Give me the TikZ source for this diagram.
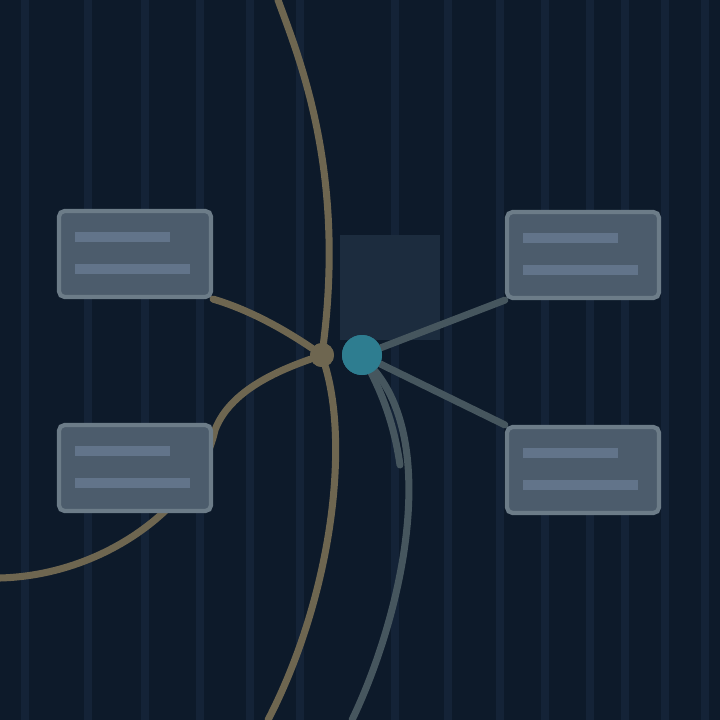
\documentclass[tikz,border=0pt]{standalone}
\usepackage{tikz}
\definecolor{bgnavy}{HTML}{0D1A2A}
\definecolor{stripe}{HTML}{142337}
\definecolor{panel}{HTML}{1C2C3E}
\definecolor{boxfill}{HTML}{4C5C6C}
\definecolor{boxedge}{HTML}{6C7C88}
\definecolor{barcol}{HTML}{62748A}
\definecolor{tan}{HTML}{6E6650}
\definecolor{slate}{HTML}{46565E}
\definecolor{teal}{HTML}{2E7D90}

\begin{document}
\begin{tikzpicture}
            [x=0.25mm,y=-0.25mm,line cap=round,
             card/.style={draw=boxedge,line width=3pt,fill=boxfill,rounded corners=4pt,
                          minimum width=38mm,minimum height=21.5mm,inner sep=0pt},
             hub/.style={circle,fill=teal,minimum size=10mm,inner sep=0pt},
             knot/.style={circle,fill=tan,minimum size=6mm,inner sep=0pt}]
            \useasboundingbox (0,0) rectangle (720,720);
            \clip (0,0) rectangle (720,720);
            \fill[bgnavy] (0,0) rectangle (720,720);
            \foreach \x in {25,88,145,200,250,300,395,448,500,545,590,625,665,705}
                \draw[stripe,line width=6pt,line cap=butt] (\x,0) -- (\x,720);
            \fill[panel] (340,235) rectangle (440,340);

            \node[knot] (k) at (322,355) {};
            \node[hub] (h) at (362,355) {};
            \coordinate (top) at (278,0);
            \coordinate (bottom) at (268,720);
            \coordinate (left) at (0,578);
            \coordinate (low) at (352,720);

            \draw[tan,line width=5pt] (top) .. controls (300,60) and (345,170) .. (k);
            \draw[tan,line width=5pt] (k) .. controls (350,450) and (330,600) .. (bottom);
            \draw[tan,line width=5pt] (left) .. controls (110,575) and (200,500) .. (215,430)
                .. controls (230,390) and (280,370) .. (k);
            \draw[slate,line width=5pt] (h) .. controls (385,400) and (395,430) .. (400,465);
            \draw[slate,line width=5pt] (h) .. controls (440,450) and (400,620) .. (low);

            \node[card] (tl) at (135,254) {};
            \node[card] (tr) at (583,255) {};
            \node[card] (bl) at (135,468) {};
            \node[card] (br) at (583,470) {};
            \foreach \b in {tl,tr,bl,br} {
                \fill[barcol] ([shift={(-60,-22)}]\b.center) rectangle ([shift={(35,-12)}]\b.center);
                \fill[barcol] ([shift={(-60,10)}]\b.center) rectangle ([shift={(55,20)}]\b.center);
            }

            \draw[tan,line width=5pt] (tl.south east) .. controls (250,310) and (285,330) .. (k);
            \draw[slate,line width=5pt] (h) -- (tr.south west);
            \draw[slate,line width=5pt] (h) -- (br.north west);
            \node[knot] at (k) {};
            \node[hub] at (h) {};
        \end{tikzpicture}
\end{document}
